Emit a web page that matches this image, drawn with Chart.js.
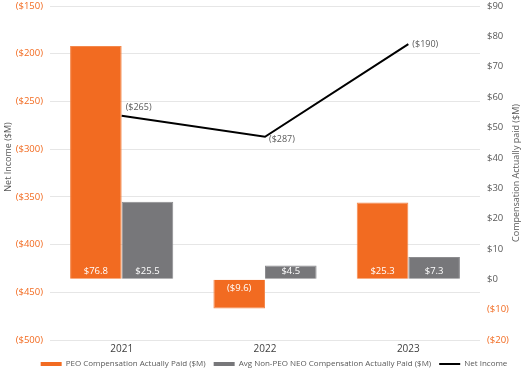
<!DOCTYPE html>
<html>
<head>
<meta charset="utf-8">
<script src="https://cdn.jsdelivr.net/npm/chart.js@4/dist/chart.umd.min.js"></script>
<style>
    html, body { margin: 0; padding: 0; background: #fff; }
    #wrap { width: 524px; height: 369px; }
</style>
</head>
<body>
<div id="wrap"><canvas id="capChart"></canvas></div>
<script>
let years = ['2021', '2022', '2023'];
let peoCap = [76.8, -9.6, 25.3];
let neoCap = [25.5, 4.5, 7.3];
let netIncome = [-265, -287, -190];

let orange = '#F26B21';
let grey = '#77777A';
let textGrey = '#595959';
let fontName = "'Open Sans', 'Noto Sans', sans-serif";
let lineLabelDy = [-8, 3, 0];
let legendRank = [2, 0, 1];


function money(v, digits) {
    let s = '$' + Math.abs(v).toFixed(digits);
    return v < 0 ? '(' + s + ')' : s;
}


function drawTitle(ctx, text, x, y) {
    ctx.save();
    ctx.translate(x, y);
    ctx.rotate(-Math.PI / 2);
    ctx.textAlign = 'center';
    ctx.textBaseline = 'middle';
    ctx.fillStyle = textGrey;
    ctx.font = '9px ' + fontName;
    ctx.fillText(text, 0, 0);
    ctx.restore();
}


let labelPlugin = {
    id: 'labelPlugin',
    afterLayout(chart) {
        // the legend sits a little right of centre and close under the years
        chart.legend.left += 24;
        chart.legend.top -= 6;
    },
    afterDatasetsDraw(chart) {
        let ctx = chart.ctx;
        let base = chart.scales.yR.getPixelForValue(0);
        let area = chart.chartArea;
        let mid = (area.top + area.bottom) / 2;

        ctx.save();
        ctx.font = '9.5px ' + fontName;
        ctx.fillStyle = '#fff';
        ctx.textAlign = 'center';
        ctx.textBaseline = 'middle';
        [1, 2].forEach((i) => {
            let meta = chart.getDatasetMeta(i);
            meta.data.forEach((bar, j) => {
                let v = chart.data.datasets[i].data[j];
                ctx.fillText(money(v, 1), bar.x, v < 0 ? base + 9 : base - 8);
            });
        });

        ctx.font = '9px ' + fontName;
        ctx.fillStyle = textGrey;
        ctx.textAlign = 'left';
        chart.getDatasetMeta(0).data.forEach((pt, j) => {
            ctx.fillText(money(netIncome[j], 0), pt.x + 4, pt.y + lineLabelDy[j]);
        });
        ctx.restore();

        drawTitle(ctx, 'Net Income ($M)', 8, mid - 16);
        drawTitle(ctx, 'Compensation Actually paid ($M)', chart.width - 8, mid);
    }
};


new Chart('capChart', {
    type: 'bar',
    data: {
        labels: years,
        datasets: [{
            type: 'line',
            label: 'Net Income',
            data: netIncome,
            borderColor: '#000',
            backgroundColor: '#000',
            borderWidth: 2,
            pointRadius: 0,
            tension: 0,
            yAxisID: 'yL'
        }, {
            label: 'PEO Compensation Actually Paid ($M)',
            data: peoCap,
            backgroundColor: orange,
            borderColor: '#F4884C',
            borderWidth: 1,
            yAxisID: 'yR',
            categoryPercentage: 0.72,
            barPercentage: 1.0
        }, {
            label: 'Avg Non-PEO NEO Compensation Actually Paid ($M)',
            data: neoCap,
            backgroundColor: grey,
            borderColor: '#8C8C8F',
            borderWidth: 1,
            yAxisID: 'yR',
            categoryPercentage: 0.72,
            barPercentage: 1.0
        }]
    },
    options: {
        responsive: true,
        maintainAspectRatio: false,
        animation: false,
        layout: { padding: { left: 0, right: 0, top: 0, bottom: -15 } },
        plugins: {
            tooltip: { enabled: false },
            legend: {
                position: 'bottom',
                labels: {
                    usePointStyle: true,
                    pointStyleWidth: 21,
                    boxHeight: 4,
                    padding: 8,
                    color: textGrey,
                    font: { family: fontName, size: 8 },
                    sort: (a, b) => legendRank[a.datasetIndex] - legendRank[b.datasetIndex],
                    generateLabels(chart) {
                        let items = Chart.defaults.plugins.legend.labels.generateLabels(chart);
                        items.forEach((item) => {
                            let isLine = item.datasetIndex == 0;
                            item.pointStyle = isLine ? 'line' : 'rect';
                            item.lineWidth = isLine ? 2 : 0;
                            item.strokeStyle = isLine ? '#000' : item.fillStyle;
                        });
                        return items;
                    }
                }
            }
        },
        scales: {
            x: {
                grid: { display: false, drawTicks: false },
                border: { display: false },
                ticks: { color: '#404040', padding: 3, font: { family: fontName, size: 10 } }
            },
            yL: {
                position: 'left',
                min: -500,
                max: -150,
                afterFit: (scale) => { scale.width = 50; scale.paddingTop = 6; },
                ticks: {
                    stepSize: 50,
                    padding: 7,
                    color: orange,
                    font: { family: fontName, size: 9.5 },
                    callback: (v) => money(v, 0)
                },
                grid: { color: '#E6E6E6', drawTicks: false },
                border: { display: false }
            },
            yR: {
                position: 'right',
                min: -20,
                max: 90,
                afterFit: (scale) => { scale.width = 44; scale.paddingTop = 6; },
                ticks: {
                    stepSize: 10,
                    padding: 7,
                    color: (c) => c.tick.value < 0 ? orange : textGrey,
                    font: { family: fontName, size: 9.5 },
                    callback: (v) => money(v, 0)
                },
                grid: { drawOnChartArea: false, drawTicks: false },
                border: { display: false }
            }
        }
    },
    plugins: [labelPlugin]
});
</script>
</body>
</html>
